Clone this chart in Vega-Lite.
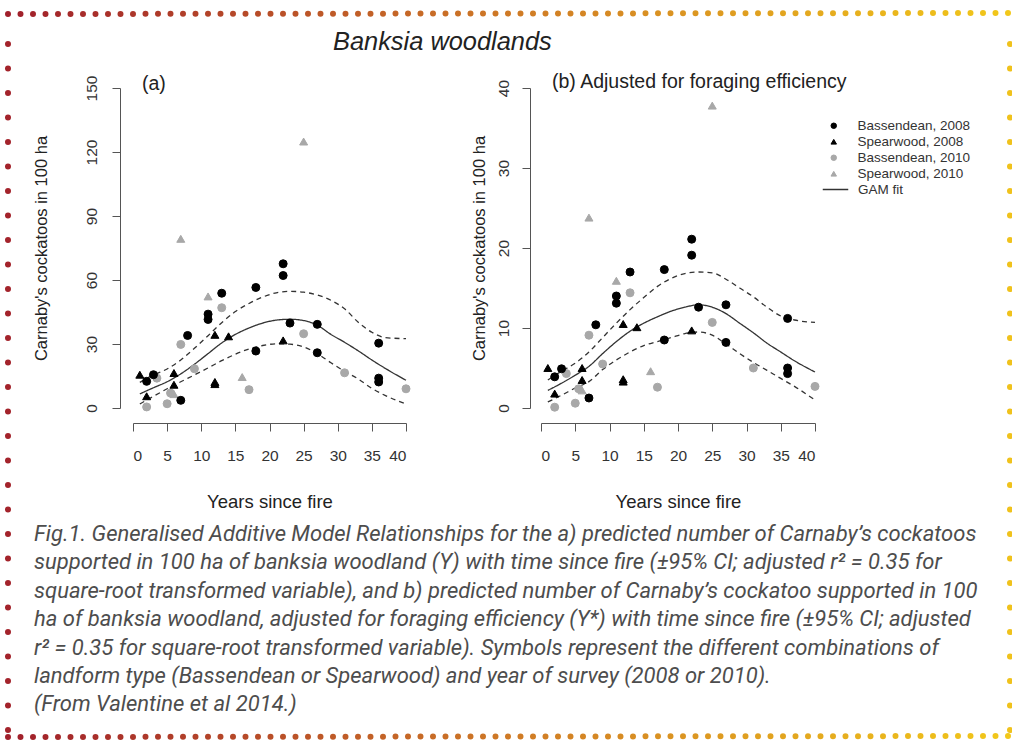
{
"$schema": "https://vega.github.io/schema/vega-lite/v6.json",
"padding": {"left": 5, "top": 10, "right": 0, "bottom": 0},
"background": "white",
"spacing": 0,
"datasets": {
"ptsA": [
{"years":2,"count":0.5,"series":"Bassendean, 2010"},{"years":3.5,"count":14,"series":"Bassendean, 2010"},{"years":5,"count":2,"series":"Bassendean, 2010"},{"years":5.5,"count":7,"series":"Bassendean, 2010"},{"years":7,"count":29.8,"series":"Bassendean, 2010"},{"years":9,"count":18.4,"series":"Bassendean, 2010"},{"years":13,"count":47,"series":"Bassendean, 2010"},{"years":17,"count":8.6,"series":"Bassendean, 2010"},{"years":25,"count":34.8,"series":"Bassendean, 2010"},{"years":31,"count":16.5,"series":"Bassendean, 2010"},{"years":40,"count":9,"series":"Bassendean, 2010"},
{"years":6,"count":6.5,"series":"Spearwood, 2010"},{"years":7,"count":79.3,"series":"Spearwood, 2010"},{"years":11,"count":52.3,"series":"Spearwood, 2010"},{"years":16,"count":14.5,"series":"Spearwood, 2010"},{"years":25,"count":124.9,"series":"Spearwood, 2010"},
{"years":2,"count":12.5,"series":"Bassendean, 2008"},{"years":3,"count":15.6,"series":"Bassendean, 2008"},{"years":7,"count":3.6,"series":"Bassendean, 2008"},{"years":8,"count":34,"series":"Bassendean, 2008"},{"years":11,"count":44,"series":"Bassendean, 2008"},{"years":11,"count":41.5,"series":"Bassendean, 2008"},{"years":13,"count":53.8,"series":"Bassendean, 2008"},{"years":18,"count":56.5,"series":"Bassendean, 2008"},{"years":18,"count":26.7,"series":"Bassendean, 2008"},{"years":22,"count":67.6,"series":"Bassendean, 2008"},{"years":22,"count":62.1,"series":"Bassendean, 2008"},{"years":23,"count":39.8,"series":"Bassendean, 2008"},{"years":27,"count":39.2,"series":"Bassendean, 2008"},{"years":27,"count":25.9,"series":"Bassendean, 2008"},{"years":36,"count":30.4,"series":"Bassendean, 2008"},{"years":36,"count":14,"series":"Bassendean, 2008"},{"years":36,"count":12.2,"series":"Bassendean, 2008"},
{"years":1,"count":15.6,"series":"Spearwood, 2008"},{"years":2,"count":5.5,"series":"Spearwood, 2008"},{"years":6,"count":16.4,"series":"Spearwood, 2008"},{"years":6,"count":10.9,"series":"Spearwood, 2008"},{"years":12,"count":34.3,"series":"Spearwood, 2008"},{"years":12,"count":12.2,"series":"Spearwood, 2008"},{"years":12,"count":11.2,"series":"Spearwood, 2008"},{"years":14,"count":33.6,"series":"Spearwood, 2008"},{"years":22,"count":31.7,"series":"Spearwood, 2008"}
],
"ptsB": [
{"years":2,"count":0.1,"series":"Bassendean, 2010"},{"years":3.7,"count":4.3,"series":"Bassendean, 2010"},{"years":5,"count":0.6,"series":"Bassendean, 2010"},{"years":5.5,"count":2.4,"series":"Bassendean, 2010"},{"years":7,"count":9.1,"series":"Bassendean, 2010"},{"years":9,"count":5.5,"series":"Bassendean, 2010"},{"years":13,"count":14.4,"series":"Bassendean, 2010"},{"years":17,"count":2.6,"series":"Bassendean, 2010"},{"years":25,"count":10.7,"series":"Bassendean, 2010"},{"years":31,"count":5,"series":"Bassendean, 2010"},{"years":40,"count":2.7,"series":"Bassendean, 2010"},
{"years":6,"count":2.2,"series":"Spearwood, 2010"},{"years":7,"count":23.8,"series":"Spearwood, 2010"},{"years":11,"count":15.9,"series":"Spearwood, 2010"},{"years":16,"count":4.6,"series":"Spearwood, 2010"},{"years":25,"count":37.8,"series":"Spearwood, 2010"},
{"years":2,"count":3.9,"series":"Bassendean, 2008"},{"years":3,"count":4.9,"series":"Bassendean, 2008"},{"years":7,"count":1.25,"series":"Bassendean, 2008"},{"years":8,"count":10.4,"series":"Bassendean, 2008"},{"years":11,"count":14,"series":"Bassendean, 2008"},{"years":11,"count":13.1,"series":"Bassendean, 2008"},{"years":13,"count":17,"series":"Bassendean, 2008"},{"years":18,"count":17.3,"series":"Bassendean, 2008"},{"years":18,"count":8.5,"series":"Bassendean, 2008"},{"years":22,"count":21.1,"series":"Bassendean, 2008"},{"years":22,"count":19.1,"series":"Bassendean, 2008"},{"years":23,"count":12.6,"series":"Bassendean, 2008"},{"years":27,"count":12.9,"series":"Bassendean, 2008"},{"years":27,"count":8.2,"series":"Bassendean, 2008"},{"years":36,"count":11.2,"series":"Bassendean, 2008"},{"years":36,"count":5,"series":"Bassendean, 2008"},{"years":36,"count":4.3,"series":"Bassendean, 2008"},
{"years":1,"count":5,"series":"Spearwood, 2008"},{"years":2,"count":1.8,"series":"Spearwood, 2008"},{"years":6,"count":5,"series":"Spearwood, 2008"},{"years":6,"count":3.5,"series":"Spearwood, 2008"},{"years":12,"count":10.5,"series":"Spearwood, 2008"},{"years":12,"count":3.6,"series":"Spearwood, 2008"},{"years":12,"count":3.3,"series":"Spearwood, 2008"},{"years":14,"count":10.1,"series":"Spearwood, 2008"},{"years":22,"count":9.7,"series":"Spearwood, 2008"}
],
"fitA": [
{"years":1,"count":6.6,"band":"fit"},{"years":3,"count":9.5,"band":"fit"},{"years":5,"count":12.3,"band":"fit"},{"years":7,"count":16,"band":"fit"},{"years":9,"count":20.5,"band":"fit"},{"years":11,"count":25.5,"band":"fit"},{"years":13,"count":30.5,"band":"fit"},{"years":15,"count":34.5,"band":"fit"},{"years":17,"count":37.5,"band":"fit"},{"years":19,"count":39.8,"band":"fit"},{"years":21,"count":41.2,"band":"fit"},{"years":23,"count":41.6,"band":"fit"},{"years":25,"count":41,"band":"fit"},{"years":27,"count":38.8,"band":"fit"},{"years":29,"count":34.5,"band":"fit"},{"years":31,"count":30.8,"band":"fit"},{"years":33,"count":26.8,"band":"fit"},{"years":35,"count":22.5,"band":"fit"},{"years":37,"count":18.5,"band":"fit"},{"years":40,"count":13,"band":"fit"},
{"years":1,"count":12,"band":"hi"},{"years":3,"count":15.5,"band":"hi"},{"years":5,"count":18.3,"band":"hi"},{"years":7,"count":22.5,"band":"hi"},{"years":9,"count":28,"band":"hi"},{"years":11,"count":33.9,"band":"hi"},{"years":13,"count":40,"band":"hi"},{"years":15,"count":45.2,"band":"hi"},{"years":17,"count":49,"band":"hi"},{"years":19,"count":52,"band":"hi"},{"years":21,"count":54,"band":"hi"},{"years":23,"count":54.7,"band":"hi"},{"years":25,"count":54.3,"band":"hi"},{"years":27,"count":53,"band":"hi"},{"years":29,"count":50.5,"band":"hi"},{"years":31,"count":46.5,"band":"hi"},{"years":33,"count":40.2,"band":"hi"},{"years":35,"count":35.5,"band":"hi"},{"years":37,"count":33,"band":"hi"},{"years":40,"count":32.5,"band":"hi"},
{"years":1,"count":1.9,"band":"lo"},{"years":3,"count":5.5,"band":"lo"},{"years":5,"count":9,"band":"lo"},{"years":7,"count":12.3,"band":"lo"},{"years":9,"count":15.5,"band":"lo"},{"years":11,"count":18.8,"band":"lo"},{"years":13,"count":22.2,"band":"lo"},{"years":15,"count":25.2,"band":"lo"},{"years":17,"count":27.7,"band":"lo"},{"years":19,"count":29.3,"band":"lo"},{"years":21,"count":30.1,"band":"lo"},{"years":23,"count":29.9,"band":"lo"},{"years":25,"count":28.6,"band":"lo"},{"years":27,"count":25.5,"band":"lo"},{"years":29,"count":21.2,"band":"lo"},{"years":31,"count":17.2,"band":"lo"},{"years":33,"count":13.6,"band":"lo"},{"years":35,"count":9.2,"band":"lo"},{"years":37,"count":5.8,"band":"lo"},{"years":40,"count":1.9,"band":"lo"}
],
"fitB": [
{"years":1,"count":2.2,"band":"fit"},{"years":3,"count":3.1,"band":"fit"},{"years":5,"count":4.1,"band":"fit"},{"years":7,"count":5.2,"band":"fit"},{"years":9,"count":6.8,"band":"fit"},{"years":11,"count":8.3,"band":"fit"},{"years":13,"count":9.6,"band":"fit"},{"years":15,"count":10.6,"band":"fit"},{"years":17,"count":11.4,"band":"fit"},{"years":19,"count":12.1,"band":"fit"},{"years":21,"count":12.6,"band":"fit"},{"years":23,"count":12.9,"band":"fit"},{"years":25,"count":12.6,"band":"fit"},{"years":27,"count":11.8,"band":"fit"},{"years":29,"count":10.6,"band":"fit"},{"years":31,"count":9.4,"band":"fit"},{"years":33,"count":8.1,"band":"fit"},{"years":35,"count":7,"band":"fit"},{"years":37,"count":5.9,"band":"fit"},{"years":40,"count":4.5,"band":"fit"},
{"years":1,"count":3.5,"band":"hi"},{"years":3,"count":4.6,"band":"hi"},{"years":5,"count":5.6,"band":"hi"},{"years":7,"count":7,"band":"hi"},{"years":9,"count":8.8,"band":"hi"},{"years":11,"count":10.6,"band":"hi"},{"years":13,"count":12.3,"band":"hi"},{"years":15,"count":13.8,"band":"hi"},{"years":17,"count":15.2,"band":"hi"},{"years":19,"count":16.2,"band":"hi"},{"years":21,"count":16.8,"band":"hi"},{"years":23,"count":17,"band":"hi"},{"years":25,"count":16.9,"band":"hi"},{"years":27,"count":16.1,"band":"hi"},{"years":29,"count":15,"band":"hi"},{"years":31,"count":13.9,"band":"hi"},{"years":33,"count":12.6,"band":"hi"},{"years":35,"count":11.5,"band":"hi"},{"years":37,"count":11,"band":"hi"},{"years":40,"count":10.7,"band":"hi"},
{"years":1,"count":0.75,"band":"lo"},{"years":3,"count":1.6,"band":"lo"},{"years":5,"count":2.5,"band":"lo"},{"years":7,"count":3.3,"band":"lo"},{"years":9,"count":4.8,"band":"lo"},{"years":11,"count":6,"band":"lo"},{"years":13,"count":7,"band":"lo"},{"years":15,"count":7.8,"band":"lo"},{"years":17,"count":8.3,"band":"lo"},{"years":19,"count":8.8,"band":"lo"},{"years":21,"count":9.3,"band":"lo"},{"years":23,"count":9.5,"band":"lo"},{"years":25,"count":9.1,"band":"lo"},{"years":27,"count":8,"band":"lo"},{"years":29,"count":6.8,"band":"lo"},{"years":31,"count":5.7,"band":"lo"},{"years":33,"count":4.7,"band":"lo"},{"years":35,"count":3.7,"band":"lo"},{"years":37,"count":2.7,"band":"lo"},{"years":40,"count":1,"band":"lo"}
]
},
"vconcat": [
{
"width": 1001, "height": 1,
"data": {"values": [{}]},
"mark": {"type": "rule", "strokeWidth": 6, "strokeCap": "round", "strokeDash": [0, 12.5],
 "stroke": {"gradient": "linear", "x1": 0, "y1": 0, "x2": 1, "y2": 0, "stops": [{"offset": 0, "color": "#a01f2b"}, {"offset": 0.5, "color": "#cf7a26"}, {"offset": 1, "color": "#f2c81a"}]}},
"encoding": {
 "x": {"datum": 0, "type": "quantitative", "scale": {"domain": [0, 1]}, "axis": null},
 "x2": {"datum": 1},
 "y": {"datum": 0, "type": "quantitative", "scale": {"domain": [0, 1]}, "axis": null},
 "y2": {"datum": 1}
}
},
{
"spacing": 29,
"hconcat": [
{
"spacing": 22,
"hconcat": [
{
"width": 1, "height": 642,
"data": {"values": [{}]},
"mark": {"type": "rule", "strokeWidth": 6, "strokeCap": "round", "strokeDash": [0, 24.5], "stroke": "#a3232b"},
"encoding": {
 "x": {"datum": 0, "type": "quantitative", "scale": {"domain": [0, 1]}, "axis": null},
 "y": {"datum": 0, "type": "quantitative", "scale": {"domain": [0, 1]}, "axis": null},
 "y2": {"datum": 1.1059}
}
},
{
"title": {
 "text": [
  "Fig.1. Generalised Additive Model Relationships for the a) predicted number of Carnaby’s cockatoos",
  "supported in 100 ha of banksia woodland (Y) with time since fire (±95% CI; adjusted r² = 0.35 for",
  "square-root transformed variable), and b) predicted number of Carnaby’s cockatoo supported in 100",
  "ha of banksia woodland, adjusted for foraging efficiency (Y*) with time since fire (±95% CI; adjusted",
  "r² = 0.35 for square-root transformed variable). Symbols represent the different combinations of",
  "landform type (Bassendean or Spearwood) and year of survey (2008 or 2010).",
  "(From Valentine et al 2014.)"
 ],
 "orient": "bottom", "anchor": "start", "font": "Roboto", "fontStyle": "italic", "fontWeight": "normal",
 "fontSize": 22, "lineHeight": 28.4, "color": "#4d4d4d", "offset": 13, "dx": 1
},
"vconcat": [
{
"title": {"text": ["", "Banksia woodlands"], "font": "Liberation Sans", "fontStyle": "italic", "fontWeight": "normal", "fontSize": 25.4, "lineHeight": 10, "anchor": "start", "dx": 300, "color": "#222", "offset": 16},
"spacing": 59,
"resolve": {"scale": {"fill": "independent", "stroke": "independent", "shape": "independent", "strokeDash": "independent", "color": "independent"}},
"hconcat": [
{
"width": 273, "height": 320,
"title": {"text": "(a)", "anchor": "start", "frame": "group", "dx": 9, "offset": -19, "fontSize": 19.5, "fontWeight": "normal", "color": "#222", "font": "Liberation Sans"},
"encoding": {
 "x": {"field": "years", "type": "quantitative", "scale": {"domain": [0, 40], "nice": false, "zero": false},
  "axis": {"values": [0, 5, 10, 15, 20, 25, 30, 35, 40], "offset": 15, "labelPadding": 17, "title": "Years since fire", "titlePadding": 29, "titleFontSize": 18.5}},
 "y": {"field": "count", "type": "quantitative", "scale": {"domain": [0, 150], "nice": false},
  "axis": {"values": [0, 30, 60, 90, 120, 150], "offset": 13, "labelAngle": -90, "labelPadding": 13, "title": "Carnaby's cockatoos in 100 ha", "titlePadding": 35}}
},
"layer": [
{
 "data": {"name": "fitA"},
 "mark": {"type": "line", "color": "#333", "strokeWidth": 1.3, "interpolate": "monotone"},
 "encoding": {
  "detail": {"field": "band", "type": "nominal"},
  "strokeDash": {"field": "band", "type": "nominal", "scale": {"domain": ["fit", "lo", "hi"], "range": [[1, 0], [5, 4], [5, 4]]}, "legend": null}
 }
},
{
 "data": {"name": "ptsA"},
 "mark": {"type": "point", "filled": true, "opacity": 1, "size": 64, "strokeWidth": 1},
 "encoding": {
  "fill": {"field": "series", "type": "nominal", "scale": {"domain": ["Bassendean, 2008", "Spearwood, 2008", "Bassendean, 2010", "Spearwood, 2010"], "range": ["#000000", "#000000", "#a8a8a8", "#a8a8a8"]}, "legend": null},
  "stroke": {"field": "series", "type": "nominal", "scale": {"domain": ["Bassendean, 2008", "Spearwood, 2008", "Bassendean, 2010", "Spearwood, 2010"], "range": ["#000000", "#000000", "#a8a8a8", "#a8a8a8"]}, "legend": null},
  "shape": {"field": "series", "type": "nominal", "scale": {"domain": ["Bassendean, 2008", "Spearwood, 2008", "Bassendean, 2010", "Spearwood, 2010"], "range": ["circle", "triangle-up", "circle", "triangle-up"]}, "legend": null}
 }
}
]
},
{
"width": 274, "height": 320,
"title": {"text": "(b) Adjusted for foraging efficiency", "anchor": "start", "frame": "group", "dx": 11, "offset": -13, "fontSize": 19.5, "fontWeight": "normal", "color": "#222", "font": "Liberation Sans"},
"encoding": {
 "x": {"field": "years", "type": "quantitative", "scale": {"domain": [0, 40], "nice": false, "zero": false},
  "axis": {"values": [0, 5, 10, 15, 20, 25, 30, 35, 40], "offset": 15, "labelPadding": 17, "title": "Years since fire", "titlePadding": 29, "titleFontSize": 18.5}},
 "y": {"field": "count", "type": "quantitative", "scale": {"domain": [0, 40], "nice": false},
  "axis": {"values": [0, 10, 20, 30, 40], "offset": 11, "labelAngle": -90, "labelPadding": 11, "title": "Carnaby's cockatoos in 100 ha", "titlePadding": 9}}
},
"layer": [
{
 "data": {"name": "fitB"},
 "mark": {"type": "line", "strokeWidth": 1.3, "interpolate": "monotone"},
 "encoding": {
  "detail": {"field": "band", "type": "nominal"},
  "strokeDash": {"field": "band", "type": "nominal", "scale": {"domain": ["fit", "lo", "hi"], "range": [[1, 0], [5, 4], [5, 4]]}, "legend": null},
  "color": {"datum": "GAM fit", "type": "nominal", "scale": {"domain": ["GAM fit"], "range": ["#333333"]},
   "legend": {"orient": "none", "legendX": 281, "legendY": 88, "title": null, "labelFont": "Liberation Sans", "labelFontSize": 13.5, "labelColor": "#333", "symbolType": "stroke", "symbolSize": 650, "symbolStrokeWidth": 1.5, "symbolStrokeColor": "#333333", "labelOffset": 9}}
 }
},
{
 "data": {"name": "ptsB"},
 "mark": {"type": "point", "filled": true, "opacity": 1, "size": 64, "strokeWidth": 1},
 "encoding": {
  "fill": {"field": "series", "type": "nominal", "scale": {"domain": ["Bassendean, 2008", "Spearwood, 2008", "Bassendean, 2010", "Spearwood, 2010"], "range": ["#000000", "#000000", "#a8a8a8", "#a8a8a8"]},
   "legend": {"orient": "none", "legendX": 286, "legendY": 31, "title": null, "labelFont": "Liberation Sans", "labelFontSize": 13.5, "labelColor": "#333", "symbolSize": 30, "symbolStrokeWidth": 1, "rowPadding": 1, "labelOffset": 17}},
  "stroke": {"field": "series", "type": "nominal", "scale": {"domain": ["Bassendean, 2008", "Spearwood, 2008", "Bassendean, 2010", "Spearwood, 2010"], "range": ["#000000", "#000000", "#a8a8a8", "#a8a8a8"]},
   "legend": {"orient": "none", "legendX": 286, "legendY": 31, "title": null, "labelFont": "Liberation Sans", "labelFontSize": 13.5, "labelColor": "#333", "symbolSize": 30, "symbolStrokeWidth": 1, "rowPadding": 1, "labelOffset": 17}},
  "shape": {"field": "series", "type": "nominal", "scale": {"domain": ["Bassendean, 2008", "Spearwood, 2008", "Bassendean, 2010", "Spearwood, 2010"], "range": ["circle", "triangle-up", "circle", "triangle-up"]},
   "legend": {"orient": "none", "legendX": 286, "legendY": 31, "title": null, "labelFont": "Liberation Sans", "labelFontSize": 13.5, "labelColor": "#333", "symbolSize": 30, "symbolStrokeWidth": 1, "rowPadding": 1, "labelOffset": 17}}
 }
}
]
}
]
}
]
}
]
},
{
"width": 1, "height": 642,
"data": {"values": [{}]},
"mark": {"type": "rule", "strokeWidth": 6, "strokeCap": "round", "strokeDash": [0, 24.5], "stroke": "#f0c21c"},
"encoding": {
 "x": {"datum": 0, "type": "quantitative", "scale": {"domain": [0, 1]}, "axis": null},
 "y": {"datum": 0, "type": "quantitative", "scale": {"domain": [0, 1]}, "axis": null},
 "y2": {"datum": 1.1059}
}
}
]
},
{
"width": 1001, "height": 1,
"data": {"values": [{}]},
"mark": {"type": "rule", "strokeWidth": 6, "strokeCap": "round", "strokeDash": [0, 12.5],
 "stroke": {"gradient": "linear", "x1": 0, "y1": 0, "x2": 1, "y2": 0, "stops": [{"offset": 0, "color": "#a01f2b"}, {"offset": 0.5, "color": "#cf7a26"}, {"offset": 1, "color": "#f2c81a"}]}},
"encoding": {
 "x": {"datum": 0, "type": "quantitative", "scale": {"domain": [0, 1]}, "axis": null},
 "x2": {"datum": 1},
 "y": {"datum": 0, "type": "quantitative", "scale": {"domain": [0, 1]}, "axis": null},
 "y2": {"datum": 1}
}
}
],
"config": {
 "view": {"stroke": null},
 "font": "Liberation Sans",
 "axis": {"grid": false, "domainColor": "#555", "tickColor": "#555", "tickSize": 8, "labelColor": "#333", "labelFontSize": 15.5, "labelFont": "Liberation Sans", "titleFont": "Liberation Sans", "titleFontSize": 16.5, "titleFontWeight": "normal", "titleColor": "#222"}
}
}
